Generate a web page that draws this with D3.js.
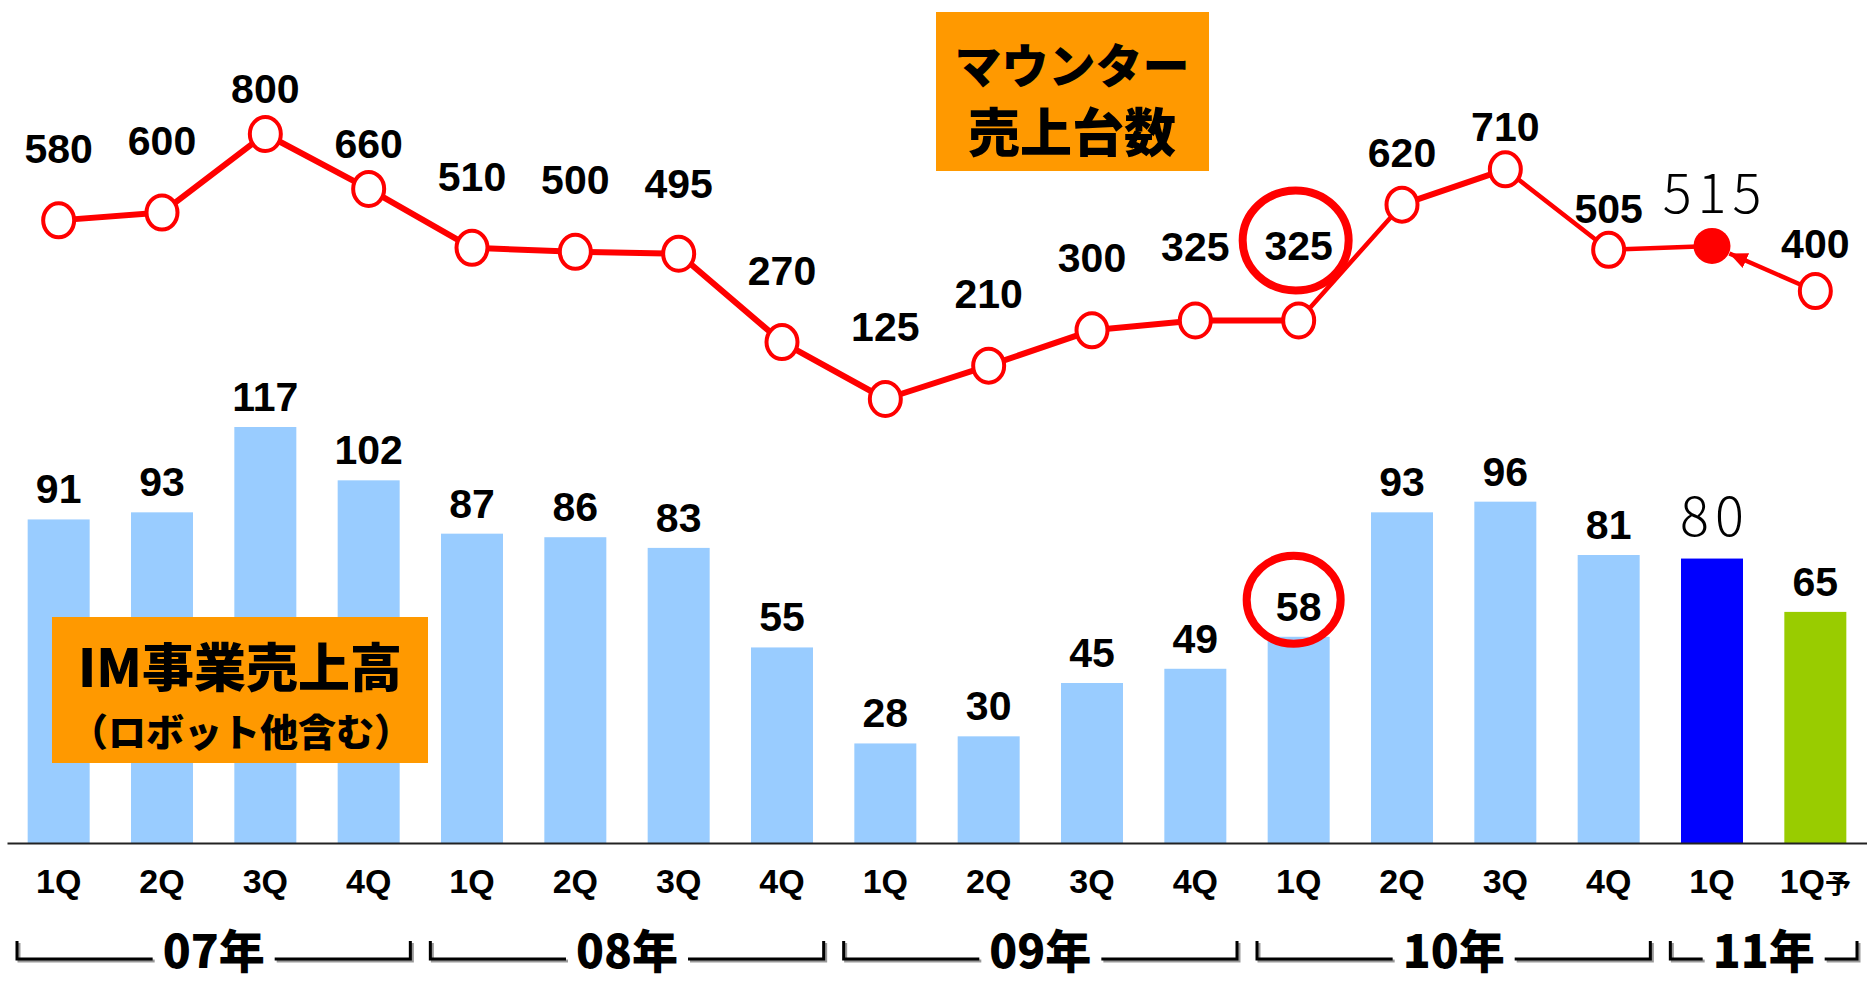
<!DOCTYPE html>
<html lang="ja">
<head>
  <meta charset="UTF-8" />
  <title>IM事業売上高 / マウンター売上台数</title>
  <script src="https://d3js.org/d3.v7.min.js"></script>
  <style>
    body { margin: 0; background: #fff; }
    .num {
      font-family: "Liberation Sans", Arial, sans-serif;
      font-weight: bold;
      font-size: 41px;
      fill: #000;
    }
    .num.light {
      font-family: "Noto Sans CJK JP", sans-serif;
      font-weight: 300;
      font-size: 54px;
      letter-spacing: 6px;
    }
    .jp {
      font-family: "Noto Sans CJK JP", sans-serif;
      font-weight: 900;
      fill: #000;
    }
  </style>
</head>
<body>
<script>
  // quarter labels along the x axis
  const quarters = ["1Q","2Q","3Q","4Q","1Q","2Q","3Q","4Q","1Q","2Q","3Q","4Q",
                    "1Q","2Q","3Q","4Q","1Q","1Q予"];
  // IM事業売上高 (bars)
  const imSales = [91, 93, 117, 102, 87, 86, 83, 55, 28, 30, 45, 49, 58, 93, 96, 81, 80, 65];
  // マウンター売上台数 (line)
  const mounterUnits = [580, 600, 800, 660, 510, 500, 495, 270, 125, 210, 300, 325, 325,
                        620, 710, 505, 515, 400];
  // year groups under the axis
  const yearLabels = ["07年", "08年", "09年", "10年", "11年"];
  const yearQuarterCount = [4, 4, 4, 4, 2];

  const actualIdx = 16;    // 11年1Q actual (blue bar, filled dot)
  const forecastIdx = 17;  // 11年1Q forecast (green bar, arrow)
  const highlightIdx = 12; // circled values

  const W = 1867, H = 982;
  const red = "#FF0000";

  const svg = d3.select("body").append("svg")
      .attr("width", W)
      .attr("height", H);

  const x = d3.scaleBand()
      .domain(d3.range(quarters.length))
      .range([7, W])
      .paddingInner(0.4)
      .paddingOuter(0.2);
  const cx = i => x(i) + x.bandwidth() / 2;

  const yBar = d3.scaleLinear().domain([0, 117]).range([843, 427]);
  const yLine = d3.scaleLinear().domain([125, 800]).range([399, 134]);

  // bars
  svg.selectAll(".bar")
    .data(imSales)
    .join("rect")
      .attr("class", "bar")
      .attr("x", (d, i) => x(i))
      .attr("y", d => yBar(d))
      .attr("width", x.bandwidth())
      .attr("height", d => yBar(0) - yBar(d))
      .attr("fill", (d, i) => i === actualIdx ? "#0000FF" : i === forecastIdx ? "#99CC00" : "#99CCFF");

  // x axis
  const axis = svg.append("g")
      .attr("transform", `translate(0,${yBar(0)})`)
      .call(d3.axisBottom(x).tickSize(0).tickSizeOuter(0).tickPadding(26)
              .tickFormat(i => quarters[i]));
  axis.select(".domain").attr("stroke", "#222").attr("stroke-width", 2);
  axis.selectAll(".tick text")
      .attr("fill", "#000")
      .attr("font-family", "\"Liberation Sans\", Arial, sans-serif")
      .attr("font-weight", "bold")
      .attr("font-size", 34);
  // small 予 on the forecast label
  axis.selectAll(".tick text").filter(i => i === forecastIdx)
      .text(null)
      .call(t => {
        t.append("tspan").text("1Q");
        t.append("tspan").attr("font-family", "\"Noto Sans CJK JP\", sans-serif")
          .attr("font-size", 26).text("予");
      });

  // year brackets
  let start = 0;
  yearLabels.forEach((lab, k) => {
    const first = start, last = start + yearQuarterCount[k] - 1;
    start = last + 1;
    const left = x(first) - x.step() * x.paddingInner() / 2 + 10;
    const right = x(last) + x.bandwidth() + x.step() * x.paddingInner() / 2 - 10;
    const mid = (left + right) / 2;
    const g = svg.append("g");
    const t = g.append("text")
        .attr("class", "jp")
        .attr("x", mid)
        .attr("y", 968)
        .attr("text-anchor", "middle")
        .attr("font-size", 46)
        .text(lab);
    const tw = t.node().getComputedTextLength();
    const top = 941, yb = 959, gap = 10;
    [[2, "#999"], [0, "#000"]].forEach(([off, col]) => {
      g.insert("path", "text")
        .attr("d", `M${left + off},${top + off}V${yb + off}H${mid - tw / 2 - gap + off}` +
                   `M${mid + tw / 2 + gap + off},${yb + off}H${right + off}V${top + off}`)
        .attr("fill", "none")
        .attr("stroke", col)
        .attr("stroke-width", 3);
    });
  });

  // IM事業売上高 label box
  svg.append("rect")
      .attr("x", 52).attr("y", 617).attr("width", 376).attr("height", 146)
      .attr("fill", "#FF9900");
  svg.append("text").attr("class", "jp")
      .attr("x", 240).attr("y", 664).attr("text-anchor", "middle")
      .attr("dominant-baseline", "central").attr("font-size", 52)
      .text("IM事業売上高");
  svg.append("text").attr("class", "jp")
      .attr("x", 241).attr("y", 729).attr("text-anchor", "middle")
      .attr("dominant-baseline", "central").attr("font-size", 38)
      .text("（ロボット他含む）");

  // マウンター売上台数 label box
  svg.append("rect")
      .attr("x", 936).attr("y", 12).attr("width", 273).attr("height", 159)
      .attr("fill", "#FF9900");
  [["マウンター", 47, 62], ["売上台数", 52, 129]].forEach(([s, fs, cy]) => {
    svg.append("text").attr("class", "jp")
      .attr("x", 1072).attr("y", cy).attr("text-anchor", "middle")
      .attr("dominant-baseline", "central").attr("font-size", fs)
      .text(s);
  });

  // bar value labels
  svg.selectAll(".barlab")
    .data(imSales)
    .join("text")
      .attr("class", (d, i) => i === actualIdx ? "num light" : "num")
      .attr("x", (d, i) => cx(i) + (i === actualIdx ? 3 : 0))
      .attr("y", (d, i) => yBar(d) - (i === actualIdx ? 23 : 16))
      .attr("text-anchor", "middle")
      .text(d => d);

  // line segments (later ones drawn thinner)
  const segWidth = i => (i === 12 || i >= 14) ? 4.5 : 6;
  svg.selectAll(".seg")
    .data(d3.pairs(d3.range(actualIdx + 1)))
    .join("line")
      .attr("x1", d => cx(d[0])).attr("y1", d => yLine(mounterUnits[d[0]]))
      .attr("x2", d => cx(d[1])).attr("y2", d => yLine(mounterUnits[d[1]]))
      .attr("stroke", red)
      .attr("stroke-width", d => segWidth(d[0]))
      .attr("stroke-linecap", "round");

  // arrow from forecast point to actual point
  svg.append("defs").append("marker")
      .attr("id", "arrow")
      .attr("markerUnits", "userSpaceOnUse")
      .attr("markerWidth", 20).attr("markerHeight", 16)
      .attr("refX", 18).attr("refY", 8)
      .attr("orient", "auto")
    .append("path")
      .attr("d", "M0,0L18,8L0,16Z")
      .attr("fill", red);
  {
    const x1 = cx(forecastIdx), y1 = yLine(mounterUnits[forecastIdx]);
    const x2 = cx(actualIdx), y2 = yLine(mounterUnits[actualIdx]);
    const len = Math.hypot(x2 - x1, y2 - y1);
    const ux = (x2 - x1) / len, uy = (y2 - y1) / len;
    svg.append("line")
      .attr("x1", x1 + ux * 17).attr("y1", y1 + uy * 17)
      .attr("x2", x2 - ux * 19).attr("y2", y2 - uy * 19)
      .attr("stroke", red).attr("stroke-width", 4.5)
      .attr("marker-end", "url(#arrow)");
  }

  // points
  svg.selectAll(".pt")
    .data(mounterUnits)
    .join("ellipse")
      .attr("cx", (d, i) => cx(i))
      .attr("cy", d => yLine(d))
      .attr("rx", (d, i) => i === actualIdx ? 18.5 : 15.5)
      .attr("ry", (d, i) => i === actualIdx ? 18 : 17)
      .attr("fill", (d, i) => i === actualIdx ? red : "#fff")
      .attr("stroke", red)
      .attr("stroke-width", (d, i) => i === actualIdx ? 0 : 4);

  // point value labels
  const lineLabelLift = [57, 58, 31, 31, 57, 58, 56, 57, 58, 58, 58, 59, 60, 38, 28, 27, 33, 33];
  svg.selectAll(".ptlab")
    .data(mounterUnits)
    .join("text")
      .attr("class", (d, i) => i === actualIdx ? "num light" : "num")
      .attr("x", (d, i) => cx(i) + (i === actualIdx ? 3 : 0))
      .attr("y", (d, i) => yLine(d) - lineLabelLift[i])
      .attr("text-anchor", "middle")
      .text(d => d);

  // red highlight rings
  svg.append("ellipse")
      .attr("cx", cx(highlightIdx) - 3)
      .attr("cy", yLine(mounterUnits[highlightIdx]) - 80)
      .attr("rx", 53).attr("ry", 50)
      .attr("fill", "none").attr("stroke", red).attr("stroke-width", 8);
  svg.append("ellipse")
      .attr("cx", cx(highlightIdx) - 5)
      .attr("cy", yBar(imSales[highlightIdx]) - 37)
      .attr("rx", 47).attr("ry", 44)
      .attr("fill", "none").attr("stroke", red).attr("stroke-width", 8);
</script>
</body>
</html>
